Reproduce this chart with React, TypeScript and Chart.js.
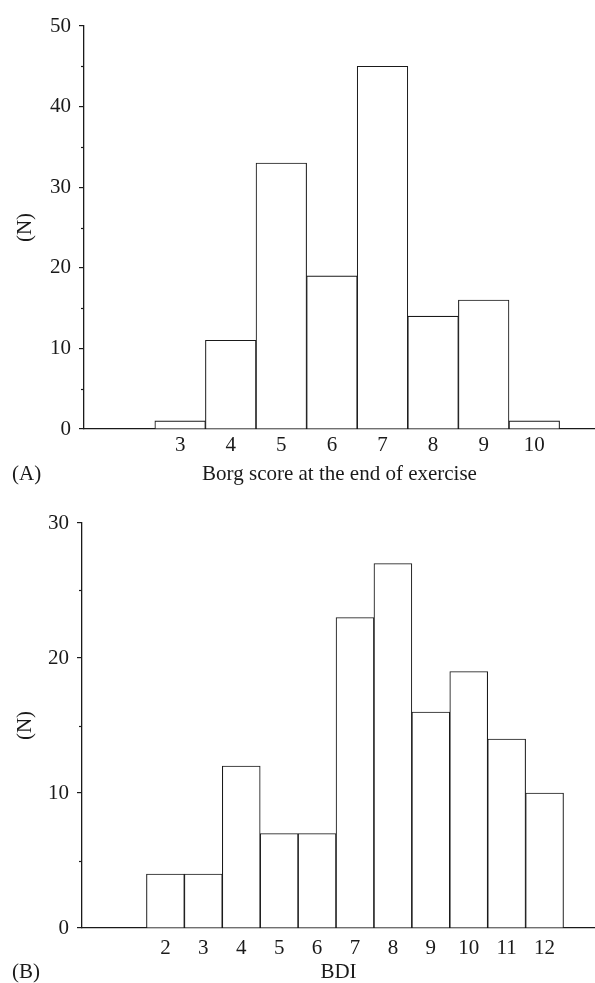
import React, { useEffect, useRef } from 'react';
import { Chart, registerables } from 'chart.js';

Chart.register(...registerables);

// Panel A: Borg score at the end of exercise
const borgScores = [3, 4, 5, 6, 7, 8, 9, 10];
const borgCounts = [1, 11, 33, 19, 45, 14, 16, 1];
const borgYMax = 50;

// Panel B: BDI
const bdiScores = [2, 3, 4, 5, 6, 7, 8, 9, 10, 11, 12];
const bdiCounts = [4, 4, 12, 7, 7, 23, 27, 16, 19, 14, 10];
const bdiYMax = 30;

const FONT = "'Liberation Serif', 'Times New Roman', serif";
const FONT_SIZE = 21;
const INK = '#1a1a1a';

type PanelCfg = {
  letter: string;
  xTitle: string;
  xs: number[];
  ys: number[];
  yMax: number;
  xMin: number;
  xMax: number;
  width: number;
  height: number;
  padTop: number;
  yWidth: number;
  xHeight: number;
  tickPad: number;
  titlePad: number;
};

function buildChart(canvas: HTMLCanvasElement, cfg: PanelCfg) {
  const decorations = {
    id: 'decorations',
    afterDraw(chart: any) {
      const ctx = chart.ctx;
      const y = chart.scales.y;
      const x = chart.scales.x;
      ctx.save();
      ctx.strokeStyle = INK;
      ctx.lineWidth = 1.2;
      for (let v = 5; v < y.max; v += 10) {
        const py = Math.round(y.getPixelForValue(v)) + 0.5;
        ctx.beginPath();
        ctx.moveTo(y.right - 3, py);
        ctx.lineTo(y.right, py);
        ctx.stroke();
      }
      ctx.fillStyle = INK;
      ctx.font = `${FONT_SIZE}px ${FONT}`;
      ctx.textAlign = 'left';
      ctx.textBaseline = 'middle';
      ctx.fillText(cfg.letter, 12, x.bottom - cfg.titlePad - FONT_SIZE / 2);
      ctx.restore();
    },
  };

  return new Chart(canvas, {
    type: 'bar',
    data: {
      datasets: [
        {
          data: cfg.xs.map((v, i) => ({ x: v, y: cfg.ys[i] })),
          backgroundColor: '#ffffff',
          borderColor: INK,
          borderWidth: 1.1,
          categoryPercentage: 1,
          barPercentage: 1,
        } as any,
      ],
    },
    options: {
      responsive: false,
      animation: false,
      events: [],
      layout: { padding: { top: cfg.padTop, left: 0, right: 0, bottom: 0 } },
      plugins: { legend: { display: false }, tooltip: { enabled: false } },
      scales: {
        x: {
          type: 'linear',
          min: cfg.xMin,
          max: cfg.xMax,
          offset: false,
          z: 1,
          afterBuildTicks: (s: any) => {
            s.ticks = cfg.xs.map((v) => ({ value: v }));
          },
          afterFit: (s: any) => {
            s.height = cfg.xHeight;
          },
          grid: { display: false, drawTicks: false, offset: false },
          border: { display: true, color: INK, width: 1.3 },
          ticks: {
            color: INK,
            font: { family: FONT, size: FONT_SIZE },
            padding: cfg.tickPad,
            autoSkip: false,
            maxRotation: 0,
            callback: (v: any) => String(v),
          },
          title: {
            display: true,
            text: cfg.xTitle,
            color: INK,
            font: { family: FONT, size: FONT_SIZE, lineHeight: 1 },
            padding: { top: 0, bottom: cfg.titlePad },
          },
        },
        y: {
          min: 0,
          max: cfg.yMax,
          afterFit: (s: any) => {
            s.width = cfg.yWidth;
          },
          grid: {
            display: true,
            drawOnChartArea: false,
            drawTicks: true,
            tickLength: 5,
            color: INK,
            lineWidth: 1.2,
          },
          border: { display: true, color: INK, width: 1.3 },
          ticks: {
            stepSize: 5,
            color: INK,
            font: { family: FONT, size: FONT_SIZE },
            padding: 8,
            callback: (v: any) => (Number(v) % 10 === 0 ? String(v) : null),
          },
          title: {
            display: true,
            text: '(N)',
            color: INK,
            font: { family: FONT, size: FONT_SIZE, lineHeight: 1 },
            padding: { top: 15, bottom: 0 },
          },
        },
      },
    } as any,
    plugins: [decorations],
  });
}

function Panel({ cfg }: { cfg: PanelCfg }) {
  const ref = useRef<HTMLCanvasElement | null>(null);
  useEffect(() => {
    if (!ref.current) return;
    const chart = buildChart(ref.current, cfg);
    return () => chart.destroy();
  }, [cfg]);
  return (
    <canvas
      ref={ref}
      width={cfg.width}
      height={cfg.height}
      style={{ display: 'block', width: cfg.width, height: cfg.height }}
    />
  );
}

const panelA: PanelCfg = {
  letter: '(A)',
  xTitle: 'Borg score at the end of exercise',
  xs: borgScores,
  ys: borgCounts,
  yMax: borgYMax,
  xMin: 1.1,
  xMax: 11.2,
  width: 595,
  height: 490,
  padTop: 26,
  yWidth: 84,
  xHeight: 61,
  tickPad: 4,
  titlePad: 5,
};

const panelB: PanelCfg = {
  letter: '(B)',
  xTitle: 'BDI',
  xs: bdiScores,
  ys: bdiCounts,
  yMax: bdiYMax,
  xMin: -0.2,
  xMax: 13.33,
  width: 595,
  height: 493,
  padTop: 33,
  yWidth: 82,
  xHeight: 55,
  tickPad: 8,
  titlePad: 0,
};

export default function App() {
  return (
    <div
      style={{
        position: 'absolute',
        left: 0,
        top: 0,
        width: 595,
        height: 983,
        background: '#ffffff',
      }}
    >
      <Panel cfg={panelA} />
      <Panel cfg={panelB} />
    </div>
  );
}
